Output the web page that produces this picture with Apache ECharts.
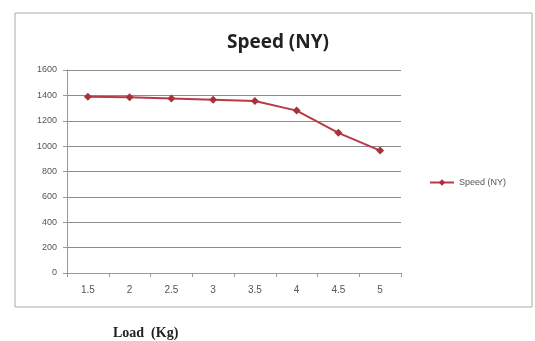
<!DOCTYPE html>
<html>
<head>
<meta charset="utf-8">
<script src="https://cdn.jsdelivr.net/npm/echarts@6/dist/echarts.min.js"></script>
<style>
  html, body { margin: 0; padding: 0; background: #fff; }
  #chart { width: 535px; height: 341px; }
</style>
</head>
<body>
<div id="chart"></div>
<script>
var loads = ['1.5', '2', '2.5', '3', '3.5', '4', '4.5', '5'];
var speedNY = [1390, 1385, 1375, 1365, 1355, 1280, 1105, 965];
var yTicks = { min: 0, max: 1600, interval: 200 };

var chart = echarts.init(document.getElementById('chart'));
chart.setOption({
    animation: false,
    title: {
        text: 'Speed (NY)',
        left: 273,
        top: 28,
        textAlign: 'center',
        textStyle: { fontFamily: 'Open Sans', fontWeight: 'bold', fontSize: 19, color: '#222' }
    },
    graphic: [{
        type: 'rect',
        shape: { x: 15, y: 13, width: 517, height: 294 },
        style: { fill: 'none', stroke: '#aaa', lineWidth: 1 }
    }, {
        type: 'text',
        left: 113,
        top: 326,
        style: { text: 'Load  (Kg)', font: 'bold 14px "Liberation Serif"', fill: '#222' }
    }],
    legend: {
        left: 424,
        top: 173,
        itemWidth: 24,
        itemHeight: 8,
        itemGap: 2,
        textStyle: { fontSize: 9, color: '#555', fontFamily: 'Liberation Sans' },
        data: ['Speed (NY)']
    },
    grid: { left: 67, right: 134, top: 70, bottom: 68 },
    xAxis: {
        type: 'category',
        data: loads,
        boundaryGap: true,
        axisLine: { lineStyle: { color: '#999' } },
        axisTick: { show: true, length: 4, lineStyle: { color: '#999' } },
        axisLabel: { fontSize: 10, color: '#555', margin: 12 }
    },
    yAxis: {
        type: 'value',
        min: yTicks.min,
        max: yTicks.max,
        interval: yTicks.interval,
        axisLine: { show: true, lineStyle: { color: '#999' } },
        axisTick: { show: true, length: 4, lineStyle: { color: '#999' } },
        axisLabel: { fontSize: 9, color: '#555', margin: 10, formatter: function (v) { return String(v); } },
        splitLine: { lineStyle: { color: '#8c8c8c' } }
    },
    series: [{
        name: 'Speed (NY)',
        type: 'line',
        data: speedNY,
        symbol: 'diamond',
        symbolSize: 8,
        lineStyle: { color: '#b83a44', width: 2 },
        itemStyle: { color: '#a8323c' }
    }]
});
</script>
</body>
</html>
